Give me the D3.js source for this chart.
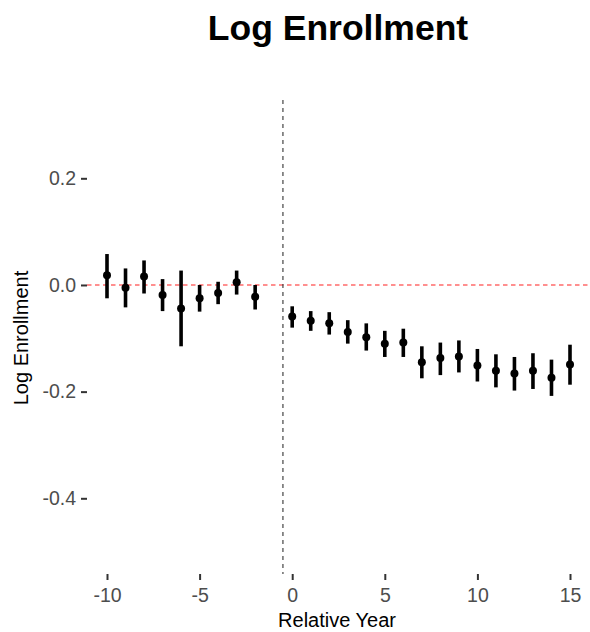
<!DOCTYPE html>
<html>
<head>
<meta charset="utf-8">
<script src="https://cdn.jsdelivr.net/npm/d3@7"></script>
<style>
  body { margin: 0; background: #fff; }
  text { font-family: "Liberation Sans", Arial, Helvetica, sans-serif; }
</style>
</head>
<body>
<svg id="chart" width="590" height="632"></svg>
<script>
const relYear = [-10,-9,-8,-7,-6,-5,-4,-3,-2,0,1,2,3,4,5,6,7,8,9,10,11,12,13,14,15];
const estimate = [0.018,-0.005,0.016,-0.019,-0.044,-0.025,-0.015,0.005,-0.022,
  -0.059,-0.067,-0.072,-0.088,-0.098,-0.110,-0.108,-0.145,-0.137,-0.134,-0.151,-0.161,-0.166,-0.161,-0.174,-0.149];
const ciLow = [-0.025,-0.042,-0.016,-0.049,-0.115,-0.050,-0.036,-0.018,-0.046,
  -0.080,-0.086,-0.093,-0.110,-0.123,-0.135,-0.135,-0.175,-0.169,-0.164,-0.181,-0.192,-0.198,-0.195,-0.208,-0.187];
const ciHigh = [0.058,0.031,0.046,0.011,0.027,0.000,0.006,0.027,0.000,
  -0.040,-0.049,-0.051,-0.066,-0.072,-0.086,-0.082,-0.115,-0.108,-0.104,-0.120,-0.130,-0.135,-0.128,-0.140,-0.112];
const xTicks = [-10,-5,0,5,10,15];
const yTicks = [0.2,0.0,-0.2,-0.4];
const titleText = "Log Enrollment";
const xLabel = "Relative Year";
const yLabel = "Log Enrollment";
const treatLine = -0.5;

const svg = d3.select("#chart");
const pLeft = 87, pRight = 590, pTop = 100, pBottom = 574;

// ggplot-like expansion: 5% beyond data range
const xBase = d3.scaleLinear().domain([-10, 15]).range([107, 570]);
const x = d3.scaleLinear().domain([xBase.invert(pLeft), xBase.invert(pRight)]).range([pLeft, pRight]);
const yBase = d3.scaleLinear().domain([-0.4, 0.2]).range([498.3, 178.3]);
const y = d3.scaleLinear().domain([yBase.invert(pBottom), yBase.invert(pTop)]).range([pBottom, pTop]);

// zero line
svg.append("line")
  .attr("x1", pLeft).attr("x2", pRight)
  .attr("y1", y(0)).attr("y2", y(0))
  .attr("stroke", "#ff6b6b").attr("stroke-width", 1.4)
  .attr("stroke-dasharray", "4.5,3.5");

// vertical line
svg.append("line")
  .attr("x1", x(treatLine)).attr("x2", x(treatLine))
  .attr("y1", pTop).attr("y2", pBottom)
  .attr("stroke", "#333").attr("stroke-width", 1.1)
  .attr("stroke-dasharray", "4,4");

const data = relYear.map((d, i) => ({x: d, e: estimate[i], lo: ciLow[i], hi: ciHigh[i]}));

svg.append("g").selectAll("line").data(data).join("line")
  .attr("x1", d => x(d.x)).attr("x2", d => x(d.x))
  .attr("y1", d => y(d.lo)).attr("y2", d => y(d.hi))
  .attr("stroke", "#000").attr("stroke-width", 3.6);

svg.append("g").selectAll("circle").data(data).join("circle")
  .attr("cx", d => x(d.x)).attr("cy", d => y(d.e))
  .attr("r", 4).attr("fill", "#000");

// axes
const xAxis = svg.append("g").attr("transform", `translate(0,${pBottom})`)
  .call(d3.axisBottom(x).tickValues(xTicks).tickSize(6).tickPadding(8).tickFormat(d3.format("d")));
const yAxis = svg.append("g").attr("transform", `translate(${pLeft},0)`)
  .call(d3.axisLeft(y).tickValues(yTicks).tickSize(6).tickPadding(5).tickFormat(d3.format(".1f")));
[xAxis, yAxis].forEach(a => {
  a.select(".domain").remove();
  a.selectAll(".tick line").attr("stroke", "#333").attr("stroke-width", 2);
  a.selectAll(".tick text").attr("fill", "#4d4d4d").attr("font-size", 19.5)
    .attr("font-family", '"Liberation Sans", Arial, sans-serif');
});
yAxis.selectAll(".tick text").text(d => d3.format(".1f")(d).replace("−", "-"));
xAxis.selectAll(".tick text").text(d => String(d));

// title
svg.append("text").attr("x", 338).attr("y", 40)
  .attr("text-anchor", "middle").attr("font-size", 35.5).attr("font-weight", "bold")
  .attr("fill", "#000").text(titleText);

svg.append("text").attr("x", 337).attr("y", 627)
  .attr("text-anchor", "middle").attr("font-size", 20).attr("fill", "#000").text(xLabel);

svg.append("text").attr("transform", `translate(28,338) rotate(-90)`)
  .attr("text-anchor", "middle").attr("font-size", 20).attr("fill", "#000").text(yLabel);
</script>
</body>
</html>
